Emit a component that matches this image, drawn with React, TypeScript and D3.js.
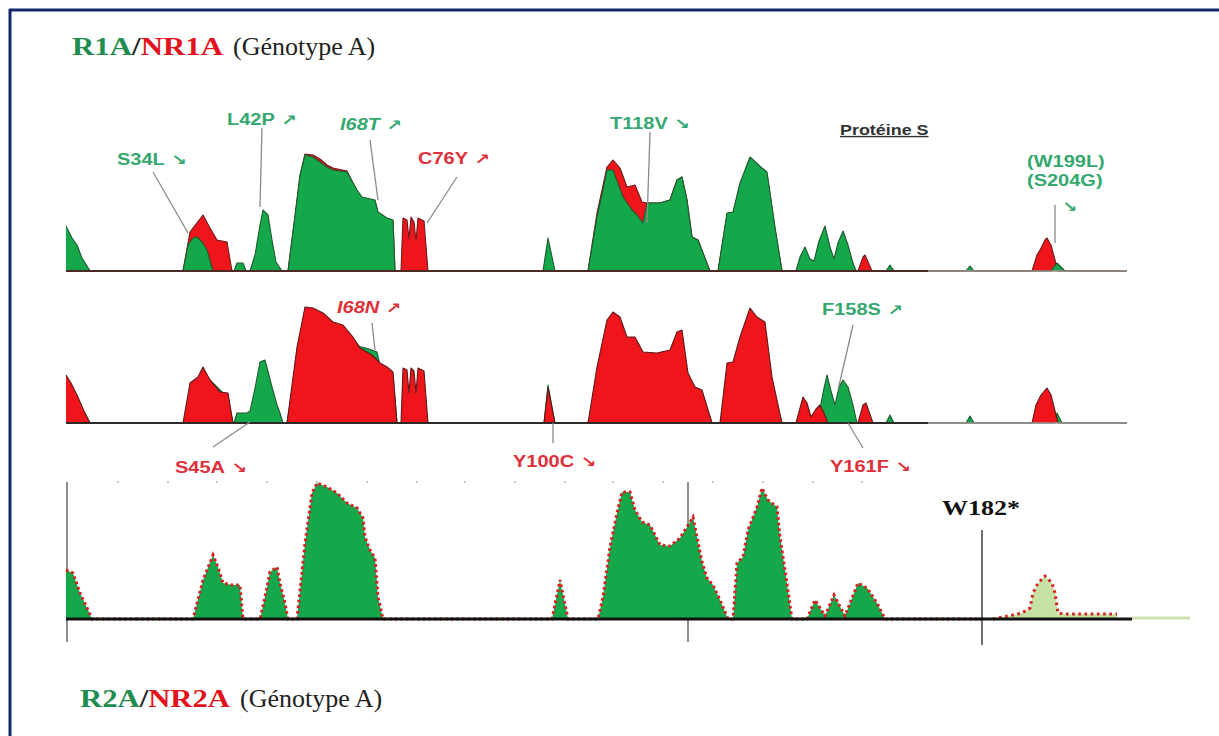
import React from "react";
import * as d3 from "d3";

type Pt = [number, number];

// ---- Data: sequence position (scaled index along protein S) vs. profile score ----
// Panel 1 : R1A (green) / NR1A (red)
const p1Green: Pt[] = [
  [0, 45], [6, 33], [11, 26], [16, 13], [24, 0],
  [117, 0], [122, 26], [127, 33], [131, 34], [136, 29], [141, 21], [147, 0],
  [168, 0], [171, 8], [177, 8], [180, 0],
  [184, 0], [189, 16], [194, 46], [197, 61], [202, 56], [206, 31], [210, 9], [216, 0],
  [222, 0], [229, 56], [234, 96], [239, 116], [247, 114], [254, 109], [261, 104], [267, 101], [281, 99], [291, 81], [296, 74], [309, 71], [312, 59], [321, 53], [327, 51], [329, 0],
  [477, 0], [482, 33], [489, 0],
  [522, 0], [531, 54], [537, 81], [541, 101], [547, 101], [557, 74], [566, 61], [571, 56], [577, 48], [581, 68], [594, 68], [604, 71], [611, 91], [616, 94], [621, 71], [626, 34], [632, 31], [637, 18], [644, 0],
  [652, 0], [661, 58], [667, 59], [674, 88], [684, 114], [696, 103], [701, 99], [709, 44], [716, 0],
  [730, 0], [734, 14], [739, 24], [744, 12], [748, 10], [753, 30], [759, 45], [764, 24], [768, 12], [772, 28], [777, 40], [782, 26], [787, 8], [790, 0],
  [820, 0], [824, 6], [828, 0],
  [900, 0], [904, 5], [908, 0],
  [985, 0], [991, 8], [999, 0],
  [1061, 0],
];
const p1Red: Pt[] = [
  [0, 42], [6, 30], [11, 24], [16, 11], [24, 0],
  [117, 0], [124, 39], [127, 43], [137, 56], [144, 43], [151, 31], [161, 29], [166, 0],
  [222, 0], [229, 54], [234, 95], [239, 117], [247, 116], [254, 112], [261, 106], [267, 103], [281, 100], [291, 80], [296, 73], [309, 70], [312, 58], [321, 52], [327, 50], [329, 0],
  [335, 0], [337, 53], [341, 51], [343, 32], [345, 54], [348, 49], [350, 30], [352, 53], [358, 50], [362, 0],
  [522, 0], [531, 58], [541, 104], [547, 111], [554, 103], [561, 84], [569, 86], [576, 69], [581, 68], [594, 68], [604, 71], [611, 91], [616, 94], [621, 71], [626, 34], [632, 31], [637, 18], [644, 0],
  [652, 0], [661, 56], [667, 57], [674, 86], [684, 112], [696, 101], [701, 97], [709, 42], [716, 0],
  [792, 0], [797, 14], [799, 16], [806, 0],
  [966, 0], [971, 16], [974, 21], [979, 31], [981, 33], [985, 26], [989, 11], [992, 0],
  [1061, 0],
];

// Panel 2 : green drawn beneath red
const p2Green: Pt[] = [
  [0, 40], [11, 24], [24, 0],
  [117, 0], [137, 50], [162, 25], [167, 0],
  [168, 0], [171, 10], [181, 10], [184, 12], [189, 35], [194, 61], [199, 63], [206, 36], [211, 18], [214, 10], [217, 0],
  [221, 0], [239, 108], [257, 104], [277, 94], [287, 83], [294, 76], [296, 76], [303, 74], [311, 71], [314, 58], [321, 53], [327, 48], [331, 0],
  [478, 0], [482, 38], [489, 0],
  [522, 0], [547, 100], [577, 62], [591, 65], [604, 68], [611, 84], [616, 86], [622, 45], [629, 32], [636, 28], [646, 0],
  [654, 0], [684, 108], [716, 0],
  [749, 0], [754, 14], [758, 35], [761, 48], [765, 32], [769, 18], [773, 36], [777, 43], [782, 36], [787, 18], [791, 0],
  [820, 0], [824, 8], [828, 0],
  [900, 0], [904, 7], [908, 0],
  [988, 0], [991, 10], [996, 0],
  [1061, 0],
];
const p2Red: Pt[] = [
  [0, 48], [5, 40], [11, 28], [18, 12], [24, 0],
  [117, 0], [124, 40], [132, 46], [137, 56], [144, 43], [154, 31], [162, 30], [167, 0],
  [221, 0], [231, 76], [239, 116], [247, 115], [257, 110], [267, 101], [277, 98], [287, 86], [294, 75], [306, 68], [314, 60], [321, 56], [327, 51], [331, 0],
  [335, 0], [337, 55], [341, 53], [343, 30], [345, 55], [348, 52], [350, 30], [352, 55], [358, 52], [362, 0],
  [478, 0], [482, 35], [489, 0],
  [522, 0], [531, 56], [541, 103], [547, 111], [554, 106], [561, 86], [569, 86], [577, 71], [591, 70], [604, 73], [611, 91], [616, 93], [622, 50], [629, 36], [636, 33], [646, 0],
  [654, 0], [661, 60], [667, 61], [674, 86], [684, 115], [691, 106], [699, 101], [706, 46], [716, 0],
  [730, 0], [737, 26], [741, 20], [745, 6], [750, 14], [754, 18], [758, 10], [762, 0],
  [792, 0], [797, 18], [800, 20], [807, 0],
  [966, 0], [970, 18], [975, 28], [981, 35], [985, 28], [989, 12], [992, 0],
  [1061, 0],
];

// Panel 3 : R2A/NR2A, before and after the W182* stop codon
const p3Values: Pt[] = [
  [0, 49], [7, 46], [14, 26], [22, 9], [26, 0],
  [127, 0], [137, 39], [147, 64], [152, 52], [157, 36], [166, 34], [174, 34], [177, 0],
  [194, 0], [199, 22], [204, 47], [211, 52], [214, 36], [219, 16], [222, 0],
  [231, 0], [239, 76], [246, 126], [251, 136], [261, 132], [271, 126], [281, 116], [291, 111], [297, 101], [299, 82], [304, 69], [309, 61], [312, 22], [317, 0],
  [486, 0], [494, 39], [502, 0],
  [532, 0], [537, 22], [544, 72], [551, 106], [556, 127], [564, 127], [569, 109], [576, 97], [584, 94], [594, 74], [604, 73], [614, 81], [621, 92], [627, 102], [631, 82], [636, 57], [641, 41], [647, 34], [654, 19], [662, 0],
  [667, 0], [671, 56], [677, 62], [682, 89], [691, 112], [696, 131], [702, 119], [711, 112], [714, 82], [719, 49], [726, 0],
  [741, 0], [749, 19], [759, 3], [768, 24], [779, 3], [792, 36], [801, 31], [811, 16], [819, 0],
  [916, 0],
];
const p3Truncated: Pt[] = [
  [927, 0], [937, 2], [947, 4], [956, 6], [964, 11], [967, 26], [972, 36], [979, 43], [986, 36], [989, 26], [992, 6], [999, 5], [1051, 5],
];

const stopPosition = 916;
const panel3Guides = [1, 622];
const topTicks = [52, 102, 151, 201, 251, 301, 351, 399, 449, 499, 547, 597, 647, 697, 747, 796];

type Ann = { name: string; arrow: string; color: "g" | "r"; italic?: boolean };
const annotations: Ann[] = [
  { name: "S34L", arrow: "↘", color: "g" },
  { name: "L42P", arrow: "↗", color: "g" },
  { name: "I68T", arrow: "↗", color: "g", italic: true },
  { name: "C76Y", arrow: "↗", color: "r" },
  { name: "T118V", arrow: "↘", color: "g" },
  { name: "I68N", arrow: "↗", color: "r", italic: true },
  { name: "S45A", arrow: "↘", color: "r" },
  { name: "Y100C", arrow: "↘", color: "r" },
  { name: "F158S", arrow: "↗", color: "g" },
  { name: "Y161F", arrow: "↘", color: "r" },
];
// layout: text x, text baseline, leader line (x1,y1,x2,y2)
const annLayout: number[][] = [
  [117, 165, 153, 172, 188, 233],
  [227, 125, 262, 128, 260, 207],
  [340, 130, 370, 140, 378, 200],
  [418, 164, 457, 177, 427, 223],
  [610, 129, 650, 132, 647, 223],
  [337, 313, 372, 323, 375, 350],
  [175, 473, 213, 447, 250, 422],
  [513, 467, 553, 423, 553, 443],
  [822, 315, 853, 325, 838, 390],
  [830, 472, 863, 448, 848, 423],
];

const GREEN = "#14a84b";
const RED = "#f0151b";
const LBL_G = "#34a86e";
const LBL_R = "#e0303a";

const x = d3.scaleLinear().domain([0, 1061]).range([66, 1127]);
const y1 = d3.scaleLinear().domain([0, 120]).range([271, 151]);
const y2 = d3.scaleLinear().domain([0, 120]).range([423, 303]);
const y3 = d3.scaleLinear().domain([0, 140]).range([619, 479]);

function areaPath(data: Pt[], y: d3.ScaleLinear<number, number>) {
  return d3.area<Pt>().x((d) => x(d[0])).y0(y(0)).y1((d) => y(d[1]))(data) || "";
}
function linePath(data: Pt[], y: d3.ScaleLinear<number, number>) {
  return d3.line<Pt>().x((d) => x(d[0])).y((d) => y(d[1]))(data) || "";
}

const Profile = ({ data, y, fill, stroke }: any) => (
  <g>
    <path d={areaPath(data, y)} fill={fill} />
    <path d={linePath(data, y)} fill="none" stroke={stroke} strokeWidth={1.1} strokeLinejoin="round" />
  </g>
);

const Title = ({ left, right, xPos, yPos, w }: any) => (
  <g>
    <text x={xPos} y={yPos} fontFamily="'Liberation Serif', 'Times New Roman', serif" fontSize={26} fontWeight="bold" textLength={w} lengthAdjust="spacingAndGlyphs">
      <tspan fill="#1f8d4f">{left}</tspan>
      <tspan fill="#222">/</tspan>
      <tspan fill="#e3121c">{right}</tspan>
    </text>
    <text x={xPos + w + 10} y={yPos} fontFamily="'Liberation Serif', 'Times New Roman', serif" fontSize={26} fill="#222">
      (Génotype A)
    </text>
  </g>
);

const Label = ({ txt, arrow, fill, italic, tx, ty }: any) => (
  <text
    transform={`translate(${tx},${ty}) scale(1.25,1)`}
    fontFamily="'Liberation Sans', Arial, 'DejaVu Sans', sans-serif"
    fontSize={16}
    fontWeight="bold"
    fontStyle={italic ? "italic" : "normal"}
    fill={fill}
  >
    {txt}
    {arrow ? <tspan dx={5} fontSize={15} fontFamily="'DejaVu Sans', sans-serif" fontStyle="normal">{arrow}</tspan> : null}
  </text>
);

export default function App() {
  return (
    <svg width={1219} height={736} style={{ position: "absolute", left: 0, top: 0, background: "#fff" }}>
      <rect x={0} y={0} width={1219} height={736} fill="#fff" />
      {/* frame */}
      <line x1={9} y1={10} x2={1219} y2={10} stroke="#14286e" strokeWidth={3} />
      <line x1={10} y1={9} x2={10} y2={736} stroke="#14286e" strokeWidth={3} />

      <Title left="R1A" right="NR1A" xPos={72} yPos={55} w={151} />
      <Title left="R2A" right="NR2A" xPos={80} yPos={707} w={150} />

      {/* Panel 1 */}
      <Profile data={p1Red} y={y1} fill={RED} stroke="#6a1c1c" />
      <Profile data={p1Green} y={y1} fill={GREEN} stroke="#1d5a2e" />
      <line x1={x(0)} x2={x(862)} y1={y1(0)} y2={y1(0)} stroke="#4a2a22" strokeWidth={2} />
      <line x1={x(862)} x2={x(1061)} y1={y1(0)} y2={y1(0)} stroke="#9a8a88" strokeWidth={1.6} />

      {/* Panel 2 */}
      <Profile data={p2Green} y={y2} fill={GREEN} stroke="#1d5a2e" />
      <Profile data={p2Red} y={y2} fill={RED} stroke="#5a1a1a" />
      <line x1={x(0)} x2={x(862)} y1={y2(0)} y2={y2(0)} stroke="#2e2a28" strokeWidth={2.2} />
      <line x1={x(862)} x2={x(1061)} y1={y2(0)} y2={y2(0)} stroke="#9a9a98" strokeWidth={1.6} />

      {/* Panel 3 */}
      {topTicks.map((t, i) => (
        <rect key={i} x={x(t) - 1} y={481} width={2} height={2} fill="#c8c8c8" />
      ))}
      {panel3Guides.map((g, i) => (
        <line key={i} x1={x(g)} x2={x(g)} y1={482} y2={642} stroke="#6a6a6a" strokeWidth={1.5} />
      ))}
      <line x1={x(stopPosition)} x2={x(stopPosition)} y1={530} y2={645} stroke="#333" strokeWidth={1.4} />
      <path d={areaPath(p3Values, y3)} fill={GREEN} />
      <path d={areaPath(p3Truncated, y3)} fill="#c6e1a4" />
      <path d={linePath(p3Values, y3)} fill="none" stroke="#d81e1e" strokeWidth={3} strokeDasharray="2.6 3" />
      <path d={linePath(p3Truncated, y3)} fill="none" stroke="#d81e1e" strokeWidth={3} strokeDasharray="2.6 3.6" />
      <line x1={x(1066)} x2={x(1124)} y1={y3(0) - 1} y2={y3(0) - 1} stroke="#cfe0b0" strokeWidth={3} />
      <line x1={x(0)} x2={x(1066)} y1={y3(0)} y2={y3(0)} stroke="#111" strokeWidth={3} />
      <text x={942} y={515} fontFamily="'Liberation Serif', 'Times New Roman', serif" fontSize={22} fontWeight="bold" fill="#111" textLength={78} lengthAdjust="spacingAndGlyphs">
        W182*
      </text>

      {/* annotations */}
      {annotations.map((a, i) => {
        const L = annLayout[i];
        return (
          <g key={a.name}>
            <line x1={L[2]} y1={L[3]} x2={L[4]} y2={L[5]} stroke="#8a8a8a" strokeWidth={1.3} />
            <Label txt={a.name} arrow={a.arrow} fill={a.color === "g" ? LBL_G : LBL_R} italic={a.italic} tx={L[0]} ty={L[1]} />
          </g>
        );
      })}
      {/* W199L / S204G */}
      <line x1={1055} y1={205} x2={1055} y2={y1(28)} stroke="#8a8a8a" strokeWidth={1.3} />
      <Label txt="(W199L)" fill={LBL_G} tx={1027} ty={167} />
      <Label txt="(S204G)" fill={LBL_G} tx={1027} ty={186} />
      <text transform="translate(1062,212) scale(1.2,1)" fontFamily="'DejaVu Sans', sans-serif" fontSize={15} fontWeight="bold" fill={LBL_G}>↘</text>

      {/* Protéine S */}
      <text transform="translate(840,135) scale(1.28,1)" fontFamily="'Liberation Sans', Arial, sans-serif" fontSize={14} fontWeight="bold" fill="#333" textDecoration="underline">
        Protéine S
      </text>
    </svg>
  );
}
